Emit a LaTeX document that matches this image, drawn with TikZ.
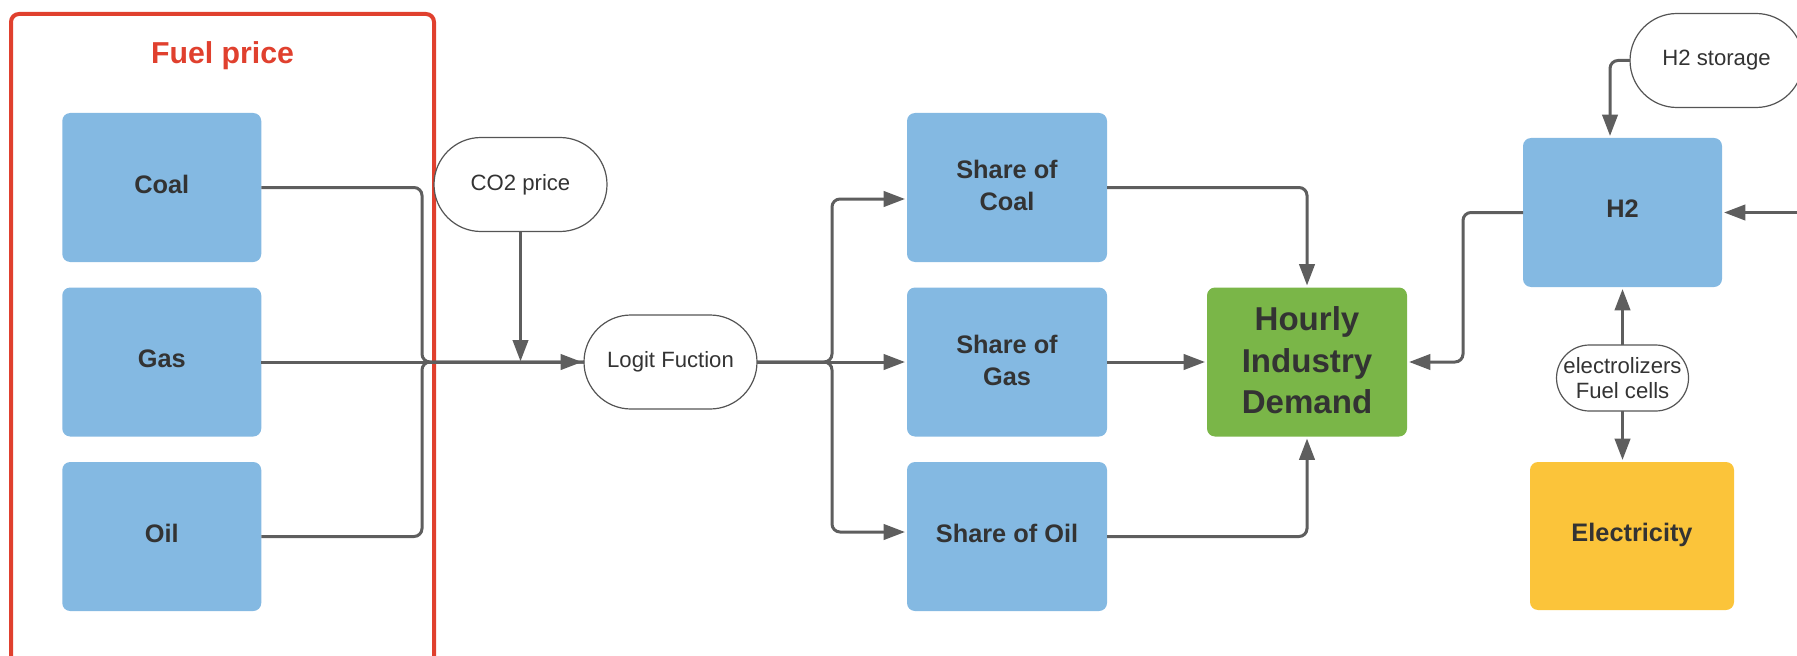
\documentclass[tikz,border=0pt]{standalone}
\usepackage{fontspec}
\setmainfont{Liberation Sans}
\usetikzlibrary{arrows.meta,calc}
\definecolor{boxblue}{HTML}{84B9E2}
\definecolor{boxgreen}{HTML}{7AB648}
\definecolor{boxyellow}{HTML}{FBC43A}
\definecolor{framered}{HTML}{E0402E}
\definecolor{txt}{HTML}{333333}
\definecolor{wirecol}{HTML}{5E5E5E}
\definecolor{pillline}{HTML}{555555}
\begin{document}
\begin{tikzpicture}[x=0.75pt,y=-0.75pt,
  box/.style={rectangle, rounded corners=6pt, minimum width=149.25pt, minimum height=111.75pt,
    inner sep=0pt, outer sep=0pt, text=txt, align=center,
    font=\fontsize{19}{24}\selectfont\bfseries, text depth=0.55em},
  twoline/.style={text depth=0.3em},
  pill/.style={rectangle, draw=pillline, line width=0.9pt, fill=white, rounded corners=35.25pt,
    minimum width=129.75pt, minimum height=70.5pt, inner sep=0pt, outer sep=0pt,
    text=txt, align=center, font=\fontsize{16.6}{19}\selectfont},
  wire/.style={draw=wirecol, line width=2.25pt},
  arr/.style={wire, -{Triangle[length=16pt,width=11.5pt]}, shorten >=1.5pt},
  rc/.style={rounded corners=6pt}
]
\useasboundingbox (0,0) rectangle (1797,656);
\clip (0,0) rectangle (1797,656);

% Fuel price frame
\draw[framered, line width=3pt, rounded corners=6pt] (11,14) rectangle (434,668);
\node[text=framered, font=\fontsize{22.7}{26}\selectfont\bfseries] (fueltitle) at (222.5,56) {Fuel price};

% fuel boxes
\node[box, fill=boxblue] (coal) at (161.75,187.5) {Coal};
\node[box, fill=boxblue] (gas)  at (161.75,362) {Gas};
\node[box, fill=boxblue] (oil)  at (161.75,536.5) {Oil};

% pills
\node[pill] (co2) at (520.5,184.5) {CO2 price};
\node[pill] (logit) at (670.5,362) {Logit Fuction};
\node[pill] (stor) at (1716.5,60.5) {H2 storage};
\node[pill, minimum width=99pt, minimum height=49.5pt, rounded corners=24.75pt,
  font=\fontsize{16.6}{18.75}\selectfont] (el) at (1622.5,378) {electrolizers\\Fuel cells};

% share boxes
\node[box, twoline, minimum width=150pt, fill=boxblue] (sc) at (1007,187.5) {Share of\\Coal};
\node[box, twoline, minimum width=150pt, fill=boxblue] (sg) at (1007,362) {Share of\\Gas};
\node[box, minimum width=150pt, fill=boxblue] (so) at (1007,536.5) {Share of Oil};

% demand
\node[box, minimum width=150pt, fill=boxgreen, font=\fontsize{24.8}{31}\selectfont\bfseries, text depth=0.25em]
  (hid) at (1307,362) {Hourly\\Industry\\Demand};

% H2 and electricity
\node[box, fill=boxblue] (h2) at (1622.5,212.5) {H2};
\node[box, minimum width=153pt, minimum height=111pt, fill=boxyellow] (elec) at (1632,536) {Electricity};

% coordinates
\coordinate (jL) at (422,362);
\coordinate (co2in) at (520.5,362);
\coordinate (br) at (832,362);
\coordinate (scin) at (907,199);
\coordinate (soin) at (907,532);
\coordinate (hx) at (1463,212.5);
\coordinate (rin) at (1800,212.5);
\coordinate (sx) at (1610,138);

% connectors: fuels to logit
\draw[wire, rc] (coal.east) -| (jL) -- (logit.west);
\draw[wire, rc] (oil.east) -| (jL) -- (logit.west);
\draw[arr] (gas.east) -- (logit.west);
\draw[arr, shorten >=0.5pt] (co2.south) -- (co2in);

% logit to shares
\draw[arr, rc] (logit.east) -- (br) |- (scin);
\draw[arr] (logit.east) -- (sg.west);
\draw[arr, rc] (logit.east) -- (br) |- (soin);

% shares to demand
\draw[arr, rc] (sc.east) -| (hid.north);
\draw[arr] (sg.east) -- (hid.west);
\draw[arr, rc] (so.east) -| (hid.south);

% H2 side
\draw[arr, rc] (h2.west) -- (hx) |- (hid.east);
\draw[arr] (rin) -- (h2.east);
\draw[arr, rc] (stor.west) -| (sx);
\draw[arr] (el.north) -- (h2.south);
\draw[arr] (el.south) -- (el.south |- elec.north);
\end{tikzpicture}
\end{document}
